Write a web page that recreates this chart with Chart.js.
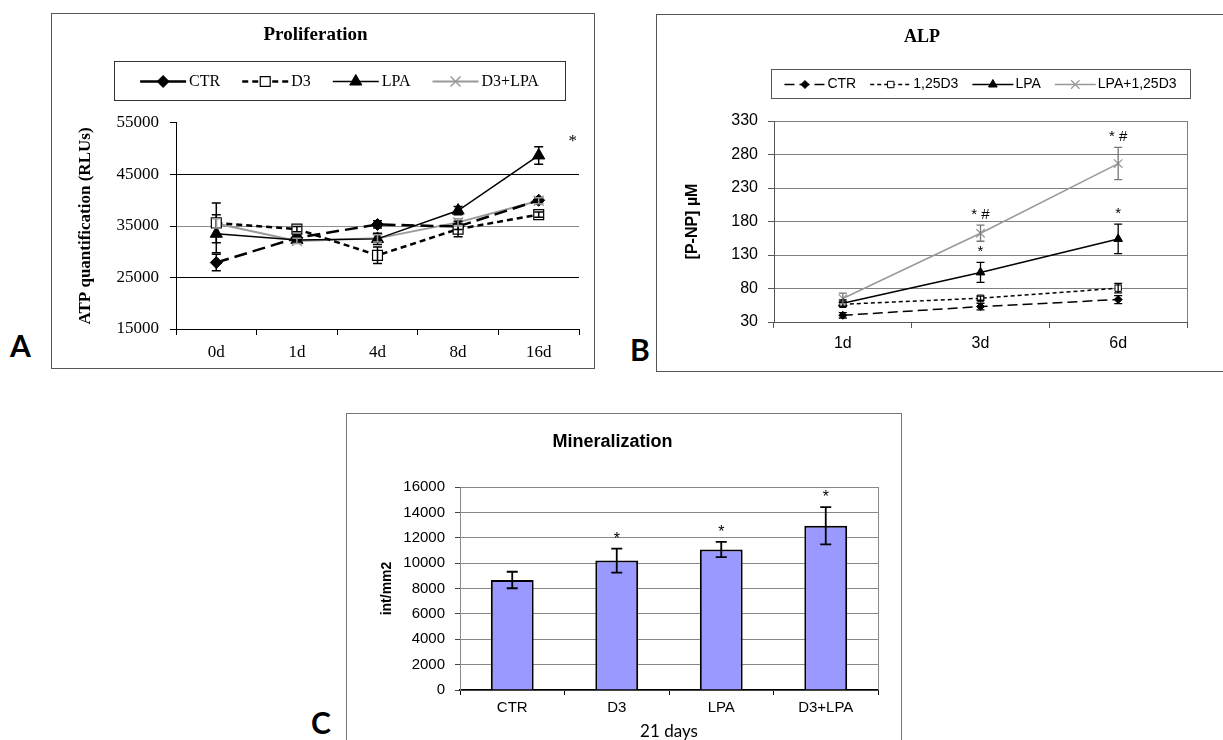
<!DOCTYPE html>
<html>
<head>
<meta charset="utf-8">
<script src="https://cdn.jsdelivr.net/npm/chart.js@4.4.1/dist/chart.umd.min.js"></script>
<style>
  html, body { margin: 0; padding: 0; background: #fff; width: 1223px; height: 740px; overflow: hidden; }
  .frame { position: absolute; border: 1px solid #555; box-sizing: border-box; }
  canvas { position: absolute; }
  .tag { position: absolute; font-family: Lato; font-weight: bold; font-size: 30px; line-height: 30px; color: #000; }
</style>
</head>
<body>
<div class="frame" style="left:51px;top:13px;width:544px;height:356px"></div>
<canvas id="chartA" width="541" height="353" style="left:52px;top:14px"></canvas>
<div class="frame" style="left:656px;top:14px;width:590px;height:358px"></div>
<canvas id="chartB" width="578" height="355" style="left:657px;top:15px"></canvas>
<div class="frame" style="left:346px;top:413px;width:556px;height:340px;border-color:#777"></div>
<canvas id="chartC" width="553" height="326" style="left:347px;top:414px"></canvas>
<div class="tag" style="left:10px;top:330px">A</div>
<div class="tag" style="left:630px;top:334px">B</div>
<div class="tag" style="left:311px;top:707px">C</div>
<script>
// Panel A - proliferation, ATP quantification (RLUs)
const daysA = ['0d', '1d', '4d', '8d', '16d'];
const ctrA = [27900, 32700, 35300, 34900, 40000];
const d3A = [35600, 34400, 29300, 34400, 37200];
const lpaA = [33500, 32300, 32500, 38000, 48700];
const d3lpaA = [35500, 32100, 32600, 35700, 39900];
const ctrErrA = [1600, 500, 700, 600, 500];
const d3ErrA = [3850, 500, 1600, 1500, 500];
const lpaErrA = [3700, 600, 1100, 800, 1700];
const d3lpaErrA = [900, 500, 700, 700, 600];
const lpaStarsA = ['', '', '', '', '*'];

// Panel B - ALP, [P-NP] uM
const daysB = ['1d', '3d', '6d'];
const ctrB = [40, 53, 63.5];
const d3B = [56.5, 65.5, 80.5];
const lpaB = [58, 104, 154];
const lpaD3B = [65, 162.5, 266.5];
const ctrErrB = [4, 5, 6];
const d3ErrB = [3, 3, 7];
const lpaErrB = [5, 15, 22];
const lpaD3ErrB = [8, 12, 24];
const lpaStarsB = ['', '*', '*'];
const lpaD3StarsB = ['', '* #', '* #'];

// Panel C - mineralization at 21 days
const groupsC = ['CTR', 'D3', 'LPA', 'D3+LPA'];
const mineralC = [8670, 10200, 11080, 12950];
const mineralErrC = [650, 950, 600, 1470];
const mineralStarsC = ['', '*', '*', '*'];

const SERIF = 'Liberation Serif';
const SANS = 'Liberation Sans';

// error bars drawn from each dataset's errors array
const errorBars = {
  id: 'errorBars',
  afterDatasetsDraw(chart, args, opts) {
    const ctx = chart.ctx, y = chart.scales.y;
    chart.data.datasets.forEach((ds, i) => {
      if (!ds.errors) return;
      const meta = chart.getDatasetMeta(i);
      ctx.save();
      ctx.setLineDash([]);
      ctx.strokeStyle = ds.errorColor || '#000';
      ctx.lineWidth = opts.width || 1.5;
      const c = opts.cap || 4;
      meta.data.forEach((el, j) => {
        const e = ds.errors[j];
        if (!e) return;
        const top = y.getPixelForValue(ds.data[j] + e);
        const bot = y.getPixelForValue(ds.data[j] - e);
        ctx.beginPath();
        ctx.moveTo(el.x, top); ctx.lineTo(el.x, bot);
        ctx.moveTo(el.x - c, top); ctx.lineTo(el.x + c, top);
        ctx.moveTo(el.x - c, bot); ctx.lineTo(el.x + c, bot);
        ctx.stroke();
      });
      ctx.restore();
    });
  }
};

// significance marks above the error bars
const stars = {
  id: 'stars',
  afterDatasetsDraw(chart, args, opts) {
    const ctx = chart.ctx, y = chart.scales.y;
    ctx.save();
    ctx.font = opts.font;
    ctx.fillStyle = '#000';
    ctx.textAlign = 'center';
    ctx.textBaseline = 'alphabetic';
    chart.data.datasets.forEach((ds, i) => {
      if (!ds.stars) return;
      chart.getDatasetMeta(i).data.forEach((el, j) => {
        const s = ds.stars[j];
        if (!s) return;
        const top = y.getPixelForValue(ds.data[j] + (ds.errors ? ds.errors[j] : 0));
        ctx.fillText(s, el.x + (opts.dx || 0), top - (opts.gap || 0));
      });
    });
    ctx.restore();
  }
};

// legend in a box, each entry = line sample with its marker, then the label
const boxLegend = {
  id: 'boxLegend',
  afterDraw(chart, args, o) {
    if (!o.width) return;
    const ctx = chart.ctx;
    ctx.save();
    ctx.strokeStyle = o.border;
    ctx.lineWidth = 1;
    ctx.strokeRect(o.left + 0.5, o.top + 0.5, o.width, o.height);
    ctx.font = o.font;
    const items = chart.data.datasets.map(ds => ({ ds, w: ctx.measureText(ds.label).width }));
    const total = items.reduce((s, it) => s + o.sample + o.gap + it.w, 0) + o.spacing * (items.length - 1);
    let x = o.left + (o.width - total) / 2;
    const cy = o.top + o.height / 2 + 1;
    items.forEach(({ ds, w }) => {
      ctx.save();
      ctx.strokeStyle = ds.borderColor;
      ctx.lineWidth = ds.borderWidth;
      ctx.setLineDash(ds.legendDash || ds.borderDash || []);
      ctx.beginPath();
      ctx.moveTo(x, cy); ctx.lineTo(x + o.sample, cy);
      ctx.stroke();
      ctx.setLineDash([]);
      ctx.fillStyle = ds.pointBackgroundColor;
      ctx.strokeStyle = ds.pointBorderColor;
      ctx.lineWidth = ds.pointBorderWidth || 1;
      Chart.helpers.drawPoint(ctx, {
        pointStyle: ds.pointStyle, radius: ds.pointRadius,
        borderWidth: ds.pointBorderWidth || 1, rotation: 0
      }, x + o.sample / 2, cy);
      ctx.restore();
      ctx.fillStyle = '#000';
      ctx.textAlign = 'left';
      ctx.textBaseline = 'middle';
      ctx.fillText(ds.label, x + o.sample + o.gap, cy);
      x += o.sample + o.gap + w + o.spacing;
    });
    ctx.restore();
  }
};

// right edge of the plot area
const plotEdge = {
  id: 'plotEdge',
  beforeDatasetsDraw(chart, args, o) {
    if (!o.color) return;
    const { right, top, bottom } = chart.chartArea;
    const ctx = chart.ctx;
    ctx.save();
    ctx.strokeStyle = o.color;
    ctx.lineWidth = 1;
    ctx.beginPath();
    ctx.moveTo(right + 0.5, top); ctx.lineTo(right + 0.5, bottom);
    ctx.stroke();
    ctx.restore();
  }
};

const plain = v => String(v);

function lineSet(label, data, errors, style) {
  return Object.assign({
    label, data, errors, fill: false, tension: 0,
    pointHoverRadius: style.pointRadius
  }, style);
}

// ---------- A ----------
new Chart(document.getElementById('chartA'), {
  type: 'line',
  data: {
    labels: daysA,
    datasets: [
      lineSet('CTR', ctrA, ctrErrA, {
        order: 1,
        borderColor: '#000', borderWidth: 2.5, borderDash: [13, 6], legendDash: [],
        pointStyle: 'rectRot', pointRadius: 6, pointBackgroundColor: '#000', pointBorderColor: '#000', pointBorderWidth: 1
      }),
      lineSet('D3', d3A, d3ErrA, {
        order: 0,
        borderColor: '#000', borderWidth: 2.5, borderDash: [6, 4],
        pointStyle: 'rect', pointRadius: 7, pointBackgroundColor: '#fff', pointBorderColor: '#000', pointBorderWidth: 1.2
      }),
      lineSet('LPA', lpaA, lpaErrA, {
        order: 1,
        borderColor: '#000', borderWidth: 1.5,
        pointStyle: 'triangle', pointRadius: 7, pointBackgroundColor: '#000', pointBorderColor: '#000', pointBorderWidth: 1,
        stars: lpaStarsA
      }),
      lineSet('D3+LPA', d3lpaA, d3lpaErrA, {
        order: 1,
        borderColor: '#999', borderWidth: 2, errorColor: '#999',
        pointStyle: 'crossRot', pointRadius: 7, pointBackgroundColor: '#999', pointBorderColor: '#999', pointBorderWidth: 1.5
      })
    ]
  },
  options: {
    responsive: false, animation: false, events: [],
    layout: { padding: { left: 0, right: 14, top: 0, bottom: 0 } },
    plugins: {
      legend: { display: false },
      tooltip: { enabled: false },
      title: {
        display: true, text: 'Proliferation', color: '#000',
        font: { family: SERIF, size: 19, weight: 'bold' },
        padding: { top: 9.6, bottom: 76.6 }
      },
      boxLegend: {
        left: 62, top: 47, width: 451, height: 39, border: '#333',
        font: '16px ' + SERIF, sample: 46, gap: 3, spacing: 22
      },
      errorBars: { cap: 4.5, width: 1.5 },
      stars: { font: '17px ' + SERIF, dx: 34, gap: 1 }
    },
    scales: {
      x: {
        offset: true,
        grid: { offset: true, drawOnChartArea: false, tickLength: 6, color: '#000' },
        border: { color: '#000', width: 1 },
        ticks: { color: '#000', font: { family: SERIF, size: 17 }, padding: 7 },
        afterFit: s => { s.height = 38; }
      },
      y: {
        min: 15000, max: 55000,
        ticks: { stepSize: 10000, color: '#000', font: { family: SERIF, size: 17 }, padding: 11, callback: plain },
        grid: {
          tickLength: 6, tickColor: '#000',
          color: c => c.tick.value === 55000 ? 'rgba(0,0,0,0)' : (c.tick.value === 35000 ? '#8c8c8c' : '#000')
        },
        border: { color: '#000', width: 1 },
        title: {
          display: true, text: 'ATP quantification (RLUs)', color: '#000',
          font: { family: SERIF, size: 17, weight: 'bold' }, padding: { top: 23, bottom: 0 }
        },
        afterFit: s => { s.width = 124; }
      }
    }
  },
  plugins: [plotEdge, errorBars, stars, boxLegend]
});

// ---------- B ----------
new Chart(document.getElementById('chartB'), {
  type: 'line',
  data: {
    labels: daysB,
    datasets: [
      lineSet('CTR', ctrB, ctrErrB, {
        borderColor: '#000', borderWidth: 1.5, borderDash: [10, 5],
        pointStyle: 'rectRot', pointRadius: 4, pointBackgroundColor: '#000', pointBorderColor: '#000', pointBorderWidth: 1
      }),
      lineSet('1,25D3', d3B, d3ErrB, {
        borderColor: '#000', borderWidth: 1.5, borderDash: [4, 3],
        pointStyle: 'rect', pointRadius: 4.5, pointBackgroundColor: '#fff', pointBorderColor: '#000', pointBorderWidth: 1
      }),
      lineSet('LPA', lpaB, lpaErrB, {
        borderColor: '#000', borderWidth: 1.5,
        pointStyle: 'triangle', pointRadius: 5, pointBackgroundColor: '#000', pointBorderColor: '#000', pointBorderWidth: 1,
        stars: lpaStarsB
      }),
      lineSet('LPA+1,25D3', lpaD3B, lpaD3ErrB, {
        borderColor: '#999', borderWidth: 1.5, errorColor: '#777',
        pointStyle: 'crossRot', pointRadius: 6, pointBackgroundColor: '#999', pointBorderColor: '#999', pointBorderWidth: 1.2,
        stars: lpaD3StarsB
      })
    ]
  },
  options: {
    responsive: false, animation: false, events: [],
    layout: { padding: { left: 0, right: 48, top: 0, bottom: 0 } },
    plugins: {
      legend: { display: false },
      tooltip: { enabled: false },
      title: {
        display: true, text: 'ALP', color: '#000',
        font: { family: SERIF, size: 18, weight: 'bold' },
        padding: { top: 11.2, bottom: 73.2 }
      },
      boxLegend: {
        left: 114, top: 54, width: 419, height: 29, border: '#555',
        font: '14px ' + SANS, sample: 41, gap: 2, spacing: 14
      },
      plotEdge: { color: '#808080' },
      errorBars: { cap: 4, width: 1.3 },
      stars: { font: '15px ' + SANS, gap: 6 }
    },
    scales: {
      x: {
        offset: true,
        grid: { offset: true, drawOnChartArea: false, tickLength: 6, color: '#555' },
        border: { color: '#555', width: 1 },
        ticks: { color: '#000', font: { family: SANS, size: 16 }, padding: 6 },
        afterFit: s => { s.height = 48; }
      },
      y: {
        min: 30, max: 330,
        ticks: { stepSize: 50, color: '#000', font: { family: SANS, size: 16 }, padding: 10, callback: plain },
        grid: { color: '#808080', tickLength: 6, tickColor: '#555' },
        border: { color: '#555', width: 1 },
        title: {
          display: true, text: '[P-NP] µM', color: '#000',
          font: { family: SANS, size: 16, weight: 'bold' }, padding: { top: 26.4, bottom: 0 }
        },
        afterFit: s => { s.width = 117; }
      }
    }
  },
  plugins: [plotEdge, errorBars, stars, boxLegend]
});

// ---------- C ----------
new Chart(document.getElementById('chartC'), {
  type: 'bar',
  data: {
    labels: groupsC,
    datasets: [{
      label: 'Mineralization',
      data: mineralC,
      errors: mineralErrC,
      stars: mineralStarsC,
      backgroundColor: '#9999ff',
      borderColor: '#000',
      borderWidth: 2,
      barPercentage: 0.41,
      categoryPercentage: 1
    }]
  },
  options: {
    responsive: false, animation: false, events: [],
    layout: { padding: { left: 0, right: 22, top: 0, bottom: 0 } },
    plugins: {
      legend: { display: false },
      tooltip: { enabled: false },
      title: {
        display: true, text: 'Mineralization', color: '#000',
        font: { family: SANS, size: 18, weight: 'bold' },
        padding: { top: 17.2, bottom: 34.2 }
      },
      plotEdge: { color: '#888' },
      errorBars: { cap: 5.5, width: 1.8 },
      stars: { font: '16px ' + SANS, gap: 5 }
    },
    scales: {
      x: {
        grid: { offset: true, drawOnChartArea: false, tickLength: 5, color: '#000' },
        border: { color: '#000', width: 1.5 },
        ticks: { color: '#000', font: { family: SANS, size: 15 }, padding: 4 },
        title: {
          display: true, text: '21 days', color: '#000',
          font: { family: 'Lato', size: 17, lineHeight: 1 }, padding: { top: 0, bottom: 0 }
        },
        afterFit: s => { s.height = 50; }
      },
      y: {
        min: 0, max: 16000,
        ticks: { stepSize: 2000, color: '#000', font: { family: SANS, size: 15 }, padding: 10, callback: plain },
        grid: { color: '#888', tickLength: 5, tickColor: '#444' },
        border: { color: '#888', width: 1 },
        title: {
          display: true, text: 'int/mm2', color: '#000',
          font: { family: SANS, size: 14, weight: 'bold' }, padding: { top: 31.6, bottom: 0 }
        },
        afterFit: s => { s.width = 113; }
      }
    }
  },
  plugins: [plotEdge, errorBars, stars]
});
</script>
</body>
</html>
